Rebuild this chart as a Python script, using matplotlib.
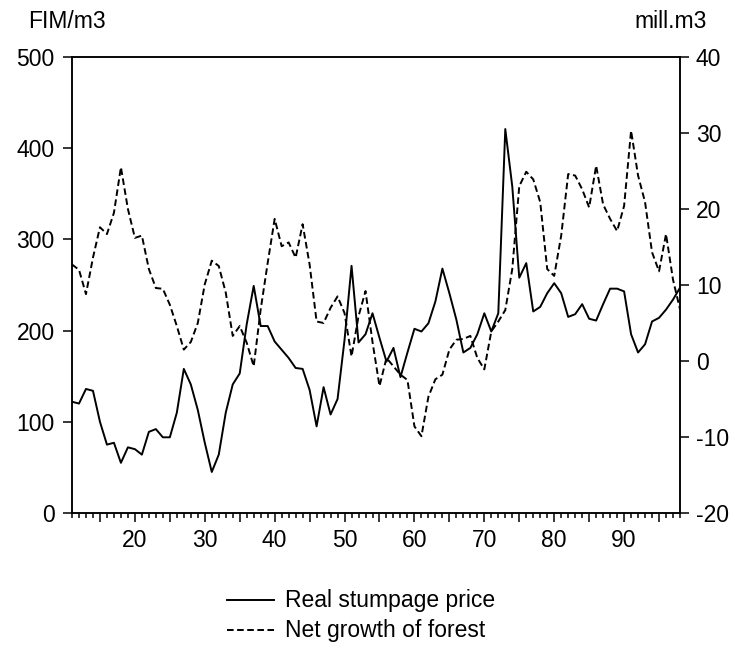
import matplotlib
matplotlib.use("Agg")
import matplotlib.pyplot as plt
from matplotlib.ticker import MultipleLocator, FuncFormatter
from matplotlib.lines import Line2D

plt.rcParams['font.family'] = ['Liberation Sans', 'DejaVu Sans']
plt.rcParams['axes.unicode_minus'] = False

years = list(range(1911, 1999))

price = [122, 120, 136, 134, 100, 75, 77, 55, 72, 70,
         64, 89, 92, 83, 83, 110, 158, 141, 113, 77,
         45, 64, 110, 141, 153, 207, 249, 205, 205, 188,
         179, 170, 159, 158, 135, 95, 138, 108, 125, 190,
         271, 187, 196, 219, 192, 166, 181, 149, 176, 202,
         199, 208, 232, 268, 241, 212, 176, 181, 196, 219,
         199, 219, 421, 358, 258, 274, 221, 226, 241, 252,
         241, 215, 218, 229, 213, 211, 229, 246, 246, 243,
         196, 176, 185, 210, 214, 223, 234, 247]

growth = [12.7, 12.0, 8.8, 13.6, 17.6, 16.7, 19.5, 25.5, 20.0, 16.2,
          16.5, 12.1, 9.6, 9.5, 7.4, 4.6, 1.5, 2.5, 5.0, 10.1,
          13.2, 12.5, 9.0, 3.3, 4.6, 2.4, -0.7, 6.8, 12.9, 18.7,
          15.1, 15.6, 13.6, 18.0, 12.7, 5.2, 5.0, 7.0, 8.5, 6.3,
          0.6, 5.9, 9.2, 2.5, -3.3, 0.4, -0.7, -1.8, -2.5, -8.6,
          -9.9, -4.7, -2.4, -1.8, 1.5, 2.8, 2.9, 3.3, 0.4, -1.1,
          3.9, 5.2, 6.7, 12.1, 23.0, 24.9, 23.9, 20.9, 12.1, 11.2,
          16.5, 24.6, 24.4, 22.6, 20.2, 25.7, 20.6, 18.7, 17.1, 20.4,
          30.3, 24.4, 20.9, 14.3, 11.8, 16.7, 10.7, 6.8]

left_label = "FIM/m3"
right_label = "mill.m3"
series_names = ["Real stumpage price", "Net growth of forest"]

W, H = 735, 650
fig = plt.figure(figsize=(W / 100, H / 100), dpi=100)
ax = fig.add_axes([72 / W, 1 - 513 / H, 608 / W, 456 / H])
ax2 = ax.twinx()

lw = 1.4
dash = (0, (3.4, 1.8))
ax.plot(years, price, color='black', lw=lw)
ax2.plot(years, growth, color='black', lw=lw, linestyle=dash)

ax.set_xlim(1911, 1998)
ax.set_ylim(0, 500)
ax2.set_ylim(-20, 40)

ax.yaxis.set_major_locator(MultipleLocator(100))
ax2.yaxis.set_major_locator(MultipleLocator(10))
ax.xaxis.set_major_locator(MultipleLocator(5))
ax.xaxis.set_minor_locator(MultipleLocator(1))
ax.xaxis.set_major_formatter(FuncFormatter(
    lambda v, p: ("%02d" % (int(round(v)) % 100)) if int(round(v)) % 10 == 0 else ""))

fs = 16.5
for a in (ax, ax2):
    for s in a.spines.values():
        s.set_linewidth(1.1)
ax.tick_params(axis='y', direction='out', length=6.5, width=1.1, pad=6, labelsize=fs)
ax2.tick_params(axis='y', direction='out', length=6.5, width=1.1, pad=5, labelsize=fs)
ax.tick_params(axis='x', which='major', direction='out', length=6.7, width=1.1, pad=5, labelsize=fs)
ax.tick_params(axis='x', which='minor', direction='out', length=3.6, width=1.1)

fig.text(67 / W, 1 - 22 / H, left_label, ha='center', va='center', fontsize=fs)
fig.text(671 / W, 1 - 22 / H, right_label, ha='center', va='center', fontsize=fs)

# legend drawn below the plot
for i, (name, ls) in enumerate(zip(series_names, ['-', dash])):
    yy = 1 - (600 + 30 * i) / H
    fig.add_artist(Line2D([227 / W, 274 / W], [yy, yy], color='black', lw=lw, linestyle=ls))
    fig.text(285 / W, yy, name, ha='left', va='center', fontsize=fs)

fig.savefig("out.png", dpi=100)
